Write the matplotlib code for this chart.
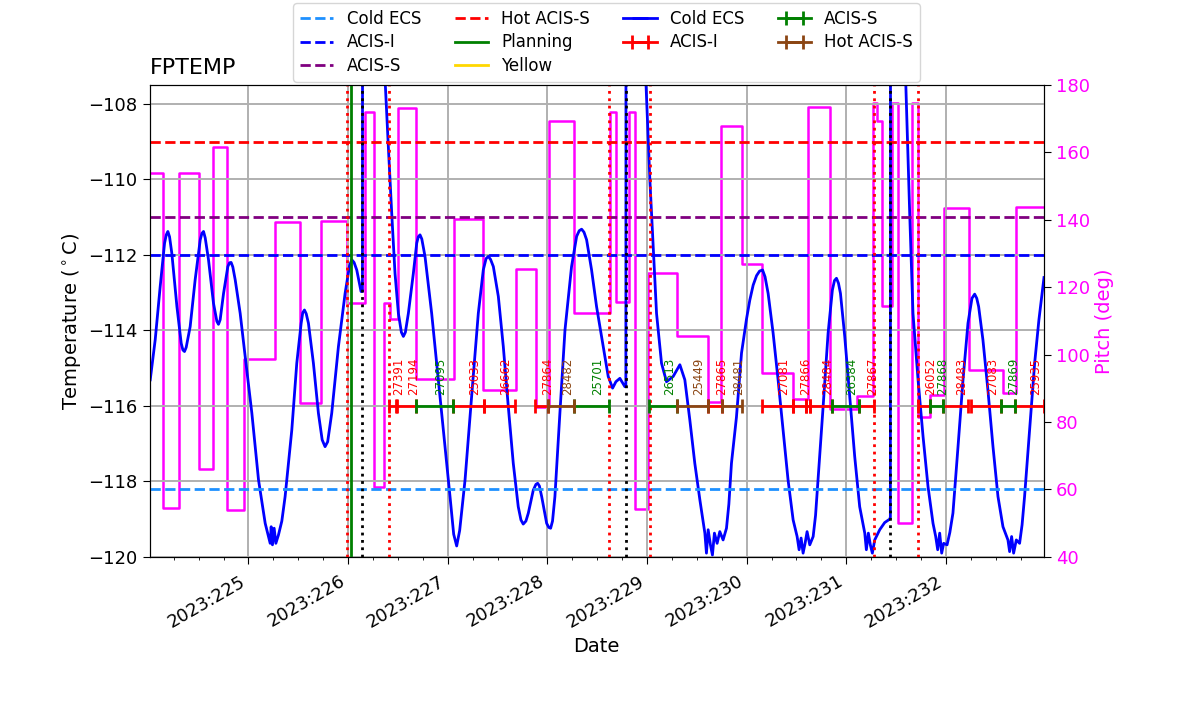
import numpy as np
import matplotlib.pyplot as plt

# FPTEMP trace, day of year 2023 and deg C (spikes at perigee go off the top)
temp_day = [224.014, 224.064, 224.114, 224.158, 224.175, 224.191, 224.208, 224.231, 224.282,
            224.325, 224.342, 224.358, 224.375, 224.415, 224.465, 224.516, 224.533, 224.549,
            224.566, 224.599, 224.649, 224.683, 224.699, 224.716, 224.750, 224.793, 224.810,
            224.826, 224.843, 224.867, 224.917, 224.967, 225.034, 225.101, 225.168, 225.218,
            225.228, 225.241, 225.258, 225.275, 225.301, 225.335, 225.368, 225.435, 225.485,
            225.529, 225.545, 225.562, 225.580, 225.602, 225.652, 225.702, 225.740, 225.769,
            225.795, 225.836, 225.903, 225.970, 226.015, 226.037, 226.060, 226.087, 226.130,
            226.144, 226.146, 226.360, 226.372, 226.404, 226.438, 226.471, 226.505, 226.535,
            226.555, 226.575, 226.605, 226.655, 226.689, 226.705, 226.722, 226.740, 226.772,
            226.839, 226.906, 226.973, 227.023, 227.060, 227.090, 227.120, 227.174, 227.240,
            227.307, 227.357, 227.385, 227.407, 227.430, 227.458, 227.508, 227.558, 227.608,
            227.658, 227.708, 227.735, 227.758, 227.785, 227.809, 227.859, 227.885, 227.903,
            227.920, 227.943, 227.993, 228.015, 228.033, 228.052, 228.076, 228.126, 228.177,
            228.243, 228.294, 228.320, 228.344, 228.368, 228.394, 228.444, 228.494, 228.561,
            228.611, 228.655, 228.688, 228.728, 228.778, 228.788, 228.790, 228.980, 228.989,
            229.029, 229.063, 229.096, 229.146, 229.196, 229.263, 229.330, 229.380, 229.430,
            229.480, 229.531, 229.581, 229.597, 229.614, 229.637, 229.657, 229.677, 229.704,
            229.731, 229.764, 229.798, 229.822, 229.848, 229.898, 229.949, 229.999, 230.032,
            230.066, 230.100, 230.130, 230.160, 230.185, 230.216, 230.266, 230.316, 230.366,
            230.416, 230.467, 230.507, 230.527, 230.547, 230.567, 230.587, 230.607, 230.634,
            230.668, 230.692, 230.717, 230.768, 230.818, 230.861, 230.882, 230.902, 230.922,
            230.942, 230.985, 231.035, 231.085, 231.135, 231.186, 231.202, 231.222, 231.242,
            231.262, 231.286, 231.336, 231.386, 231.436, 231.443, 231.445, 231.590, 231.597,
            231.637, 231.670, 231.721, 231.771, 231.821, 231.871, 231.898, 231.918, 231.938,
            231.958, 231.978, 232.012, 232.040, 232.071, 232.122, 232.172, 232.222, 232.262,
            232.289, 232.310, 232.329, 232.372, 232.422, 232.473, 232.523, 232.573, 232.623,
            232.640, 232.660, 232.680, 232.707, 232.740, 232.765, 232.790, 232.840, 232.891,
            232.934, 232.985]
temp_val = [-115.31, -114.25, -112.84, -111.69, -111.47, -111.38, -111.52, -111.96, -113.37,
            -114.34, -114.52, -114.56, -114.45, -113.90, -112.66, -111.60, -111.43, -111.38,
            -111.55, -112.13, -113.28, -113.76, -113.84, -113.72, -113.02, -112.31, -112.21,
            -112.20, -112.32, -112.66, -113.55, -114.69, -116.19, -117.96, -119.11, -119.64,
            -119.20, -119.68, -119.24, -119.64, -119.42, -119.05, -118.40, -116.64, -114.87,
            -113.81, -113.53, -113.46, -113.56, -113.81, -114.87, -116.19, -116.90, -117.08,
            -116.95, -116.19, -114.43, -113.02, -112.28, -112.13, -112.20, -112.40, -112.97,
            -112.97, -100.0, -100.0, -107.40, -109.13, -110.90, -112.49, -113.55, -114.05,
            -114.16, -114.05, -113.55, -112.49, -111.69, -111.52, -111.47, -111.58, -112.04,
            -113.55, -115.31, -117.08, -118.40, -119.40, -119.71, -119.30, -117.96, -115.75,
            -113.55, -112.40, -112.10, -112.04, -112.12, -112.31, -113.10, -114.43, -116.02,
            -117.52, -118.67, -119.02, -119.13, -119.05, -118.84, -118.23, -118.08, -118.05,
            -118.12, -118.40, -119.11, -119.22, -119.24, -119.05, -118.40, -116.19, -113.99,
            -112.31, -111.51, -111.36, -111.32, -111.40, -111.60, -112.40, -113.37, -114.43,
            -115.22, -115.53, -115.36, -115.27, -115.49, -115.49, -100.0, -100.0, -107.40,
            -110.01, -111.78, -113.55, -114.87, -115.36, -115.22, -114.91, -115.31, -116.37,
            -117.52, -118.49, -119.37, -119.90, -119.28, -119.68, -119.95, -119.37, -119.64,
            -119.33, -119.55, -119.24, -118.60, -117.52, -116.30, -114.60, -113.70, -113.20,
            -112.80, -112.55, -112.43, -112.40, -112.58, -113.02, -114.07, -115.31, -116.64,
            -117.96, -119.02, -119.46, -119.81, -119.50, -119.90, -119.64, -119.33, -119.68,
            -119.46, -118.90, -117.96, -116.02, -114.07, -112.93, -112.68, -112.62, -112.75,
            -113.02, -114.16, -115.75, -117.34, -118.67, -119.37, -119.81, -119.37, -119.68,
            -119.90, -119.55, -119.28, -119.09, -119.00, -118.95, -100.0, -100.0, -107.40,
            -110.90, -113.55, -115.31, -116.81, -118.14, -119.11, -119.46, -119.81, -119.37,
            -119.90, -119.64, -119.68, -119.35, -118.84, -117.08, -115.31, -113.81, -113.15,
            -113.04, -113.15, -113.37, -114.25, -115.58, -117.08, -118.40, -119.20, -119.55,
            -119.86, -119.46, -119.90, -119.55, -119.64, -119.15, -118.40, -116.64, -114.87,
            -113.72, -112.60]

# pitch angle (deg), held constant until the next time
pitch_day = [224.007, 224.147, 224.298, 224.499, 224.649, 224.783, 224.957, 225.268, 225.519,
             225.726, 225.993, 226.171, 226.264, 226.364, 226.421, 226.505, 226.679, 227.063,
             227.357, 227.685, 227.883, 228.016, 228.267, 228.628, 228.688, 228.821, 228.879,
             229.012, 229.303, 229.614, 229.748, 229.949, 230.150, 230.466, 230.617, 230.841,
             231.108, 231.269, 231.311, 231.363, 231.463, 231.520, 231.664, 231.720, 231.837,
             231.978, 232.232, 232.573, 232.700, 232.985]
pitch_val = [154.0, 54.4, 154.0, 66.0, 161.5, 54.0, 98.8, 139.3, 85.6,
             139.5, 115.3, 172.1, 60.7, 115.3, 110.5, 173.1, 92.7, 140.2,
             89.5, 125.4, 84.6, 169.4, 112.3, 172.1, 115.7, 172.1, 54.1,
             124.2, 105.4, 86.1, 167.7, 126.8, 94.5, 86.8, 173.6, 83.8,
             87.6, 174.6, 169.3, 114.5, 174.6, 50.2, 174.6, 81.4, 88.1,
             143.4, 95.5, 88.6, 143.7, 143.7]

# temperature limits
limit_names = ['Cold ECS', 'ACIS-I', 'ACIS-S', 'Hot ACIS-S', 'Planning', 'Yellow']
limit_vals = [-118.2, -112.0, -111.0, -109.0, -84.0, -79.0]
limit_colors = ['dodgerblue', 'blue', 'purple', 'red', 'green', 'gold']
limit_styles = ['--', '--', '--', '--', '-', '-']

# observations
obs_start = [226.411, 226.495, 226.682, 227.053, 227.364, 227.875, 228.006, 228.267,
             229.019, 229.300, 229.611, 229.751, 230.152, 230.463, 230.600, 230.640,
             230.854, 231.125, 231.717, 231.837, 231.968, 232.250, 232.550, 232.689]
obs_stop = [226.480, 226.682, 227.053, 227.364, 227.675, 228.006, 228.267, 228.618,
            229.300, 229.611, 229.751, 229.952, 230.463, 230.600, 230.640, 230.854,
            231.125, 231.276, 231.837, 231.968, 232.222, 232.550, 232.689, 232.990]
obs_id = ['27391', '27194', '27095', '25033', '26662', '27864', '28482', '25701',
          '26513', '25449', '27865', '28481', '27081', '27866', '', '28484',
          '26384', '27867', '26052', '27868', '28483', '27083', '27869', '25935']
obs_type = ['ACIS-I', 'ACIS-I', 'ACIS-S', 'ACIS-I', 'ACIS-I', 'ACIS-I', 'Hot ACIS-S', 'ACIS-S',
            'ACIS-S', 'Hot ACIS-S', 'ACIS-I', 'Hot ACIS-S', 'ACIS-I', 'ACIS-I', 'ACIS-I', 'ACIS-I',
            'ACIS-S', 'ACIS-I', 'ACIS-I', 'ACIS-S', 'ACIS-I', 'ACIS-I', 'ACIS-S', 'ACIS-I']
type_names = ['Cold ECS', 'ACIS-I', 'ACIS-S', 'Hot ACIS-S']
type_colors = ['blue', 'red', 'green', 'saddlebrown']
obs_level = -116.0

# vertical markers
radzone_days = [225.993, 226.414, 228.621, 229.029, 231.276, 231.720]
perigee_days = [226.143, 228.788, 231.443]
load_days = [226.027]

tick_days = [225, 226, 227, 228, 229, 230, 231, 232]
tick_labels = ['2023:225', '2023:226', '2023:227', '2023:228',
               '2023:229', '2023:230', '2023:231', '2023:232']

fig, ax = plt.subplots(figsize=(12, 7.14), dpi=100)
fig.subplots_adjust(left=0.1246, right=0.87, top=0.881, bottom=0.22)
ax2 = ax.twinx()
ax.set_zorder(ax2.get_zorder() + 1)
ax.patch.set_visible(False)

ax2.plot(pitch_day, pitch_val, color='magenta', lw=1.8, drawstyle='steps-post')

ax.plot(temp_day, temp_val, color='blue', lw=2)

for name, val, c, ls in zip(limit_names, limit_vals, limit_colors, limit_styles):
    ax.axhline(val, color=c, ls=ls, lw=2, label=name)

for d in radzone_days:
    ax.axvline(d, color='red', ls=':', lw=2)
for d in perigee_days:
    ax.axvline(d, color='black', ls=':', lw=2)
for d in load_days:
    ax.axvline(d, color='green', ls='-', lw=2)

# one errorbar per observation, label only the first of each kind
for name, c in zip(type_names, type_colors):
    idx = [i for i, t in enumerate(obs_type) if t == name]
    if not idx:
        ax.errorbar([], [], xerr=[], color=c, lw=2, capsize=5, capthick=2, label=name)
        continue
    for k, i in enumerate(idx):
        mid = 0.5 * (obs_start[i] + obs_stop[i])
        half = 0.5 * (obs_stop[i] - obs_start[i])
        ax.errorbar([mid], [obs_level], xerr=[half], color=c, lw=2, capsize=5,
                    capthick=2, label=name if k == 0 else None)
        ax.text(mid, obs_level + 0.28, obs_id[i], rotation=90, color=c,
                fontsize=8.5, ha='left', va='bottom')

ax.set_xlim(224.007, 232.985)
ax.set_ylim(-120, -107.5)
ax2.set_ylim(40, 180)
ax.set_xticks(tick_days)
ax.set_xticklabels(tick_labels, rotation=30, ha='right')
ax.set_xticks(np.arange(224.25, 233.0, 0.25), minor=True)
ax.set_yticks(np.arange(-120, -107, 2))
ax.tick_params(axis='both', which='major', labelsize=13, length=5)
ax.tick_params(axis='x', which='major', pad=6)
ax2.tick_params(axis='y', labelsize=13, labelcolor='magenta', length=5)
ax.grid(True, color='#b0b0b0', lw=1.4)

ax.set_xlabel('Date', fontsize=14)
ax.set_ylabel('Temperature ($^\\circ$C)', fontsize=14)
ax2.set_ylabel('Pitch (deg)', fontsize=14, color='magenta')
ax.set_title('FPTEMP', loc='left', fontsize=16, pad=8)

ax.legend(loc='lower center', bbox_to_anchor=(0.511, 1.0), ncol=4, fontsize=12,
          labelspacing=0.33, borderaxespad=0.2)

fig.savefig('out.png')
